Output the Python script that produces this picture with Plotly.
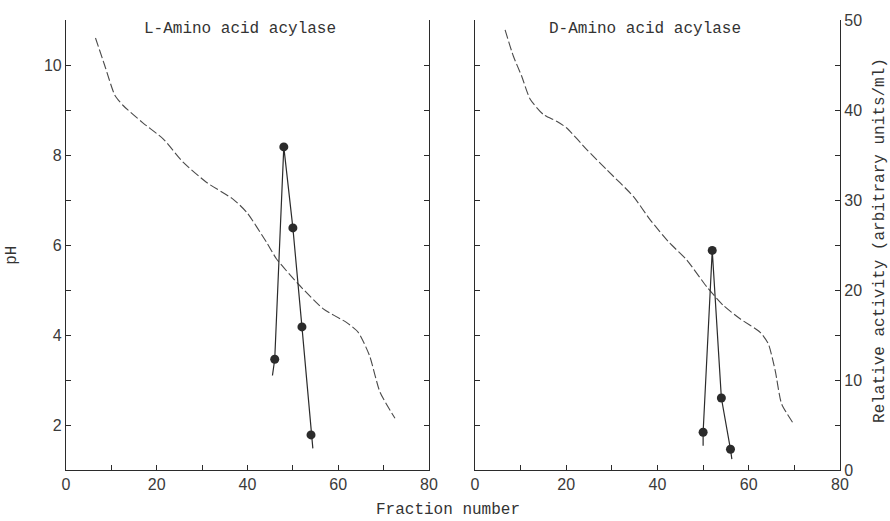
import plotly.graph_objects as go

# ---- data ----
# L-amino acid acylase panel
l_ph_frac = [6.5, 8.5, 10.8, 12.6, 17.0, 21.4, 25.8, 31.0, 36.8, 39.8, 44.2, 46.4, 51.5, 56.7, 61.8, 64.4, 66.9, 69.2, 72.5]
l_ph_val = [10.6, 10.0, 9.32, 9.10, 8.71, 8.36, 7.84, 7.39, 7.02, 6.73, 6.06, 5.69, 5.10, 4.58, 4.28, 4.06, 3.54, 2.73, 2.15]
l_act_frac = [46, 48, 50, 52, 54]
l_act_val = [12.3, 35.9, 26.9, 15.9, 3.9]
l_line_frac = [45.5, 46, 48, 50, 52, 54, 54.4]
l_line_val = [10.5, 12.3, 35.9, 26.9, 15.9, 3.9, 2.4]

# D-amino acid acylase panel
d_ph_frac = [6.6, 8.4, 10.2, 12.1, 15.0, 17.9, 20.1, 24.5, 28.9, 34.7, 38.4, 42.7, 46.4, 50.8, 54.4, 58.1, 62.5, 64.3, 65.8, 67.2, 69.8]
d_ph_val = [10.78, 10.2, 9.76, 9.24, 8.90, 8.75, 8.60, 8.12, 7.67, 7.08, 6.56, 6.04, 5.67, 5.07, 4.66, 4.36, 4.06, 3.80, 3.21, 2.47, 2.03]
d_act_frac = [50, 52, 54, 56]
d_act_val = [4.2, 24.4, 8.0, 2.3]
d_line_frac = [50, 50, 52, 54, 56, 56.3]
d_line_val = [2.7, 4.2, 24.4, 8.0, 2.3, 1.2]

x_ticks = list(range(0, 81, 10))
x_labels = ["0", "", "20", "", "40", "", "60", "", "80"]
ph_ticks = list(range(1, 12))
ph_labels = ["", "2", "", "4", "", "6", "", "8", "", "10", ""]
act_ticks = list(range(0, 51, 5))
act_labels = ["0", "", "10", "", "20", "", "30", "", "40", "", "50"]

INK = "#2b2b2b"
MONO = "Liberation Mono, DejaVu Sans Mono, monospace"
SANS = "Liberation Sans, Arial, sans-serif"

fig = go.Figure()

dash_style = dict(color="#4a4a4a", width=1.1, dash="9px,3px", shape="spline", smoothing=0.6)
solid_style = dict(color=INK, width=1.2)
marker_style = dict(color=INK, size=9)

# left panel
fig.add_trace(go.Scatter(x=l_ph_frac, y=l_ph_val, mode="lines", line=dash_style, xaxis="x", yaxis="y", showlegend=False))
fig.add_trace(go.Scatter(x=l_line_frac, y=l_line_val, mode="lines", line=solid_style, xaxis="x", yaxis="y4", showlegend=False))
fig.add_trace(go.Scatter(x=l_act_frac, y=l_act_val, mode="markers", marker=marker_style, xaxis="x", yaxis="y4", showlegend=False))

# right panel
fig.add_trace(go.Scatter(x=d_ph_frac, y=d_ph_val, mode="lines", line=dash_style, xaxis="x2", yaxis="y2", showlegend=False))
fig.add_trace(go.Scatter(x=d_line_frac, y=d_line_val, mode="lines", line=solid_style, xaxis="x2", yaxis="y3", showlegend=False))
fig.add_trace(go.Scatter(x=d_act_frac, y=d_act_val, mode="markers", marker=marker_style, xaxis="x2", yaxis="y3", showlegend=False))

tickfont = dict(family=SANS, size=16, color="#3a3a3a")
common_x = dict(range=[0, 80], tickvals=x_ticks, ticktext=x_labels, ticks="inside", ticklen=5,
                tickcolor=INK, showline=True, linecolor=INK, linewidth=1.2, showgrid=False,
                zeroline=False, tickfont=tickfont)
fig.update_layout(
    width=890, height=521,
    margin=dict(l=66, r=50, t=20, b=51, autoexpand=False),
    paper_bgcolor="white", plot_bgcolor="white",
    xaxis=dict(domain=[0, 0.469], anchor="y", **common_x),
    xaxis2=dict(domain=[0.5284, 1.0], anchor="y2", **common_x),
    yaxis=dict(domain=[0, 1], anchor="x", range=[1, 11], tickvals=ph_ticks, ticktext=ph_labels,
               ticks="inside", ticklen=5, tickcolor=INK, showline=True, linecolor=INK, linewidth=1.2,
               mirror="ticks", showgrid=False, zeroline=False, tickfont=tickfont),
    yaxis4=dict(overlaying="y", anchor="x", range=[0, 50], visible=False),
    yaxis2=dict(domain=[0, 1], anchor="x2", range=[1, 11], tickvals=ph_ticks, showticklabels=False,
                ticks="inside", ticklen=5, tickcolor=INK, showline=True, linecolor=INK, linewidth=1.2,
                showgrid=False, zeroline=False),
    yaxis3=dict(overlaying="y2", anchor="x2", side="right", range=[0, 50], tickvals=act_ticks,
                ticktext=act_labels, ticks="inside", ticklen=5, tickcolor=INK, showline=True,
                linecolor=INK, linewidth=1.2, showgrid=False, zeroline=False, tickfont=tickfont),
)

labfont = dict(family=MONO, size=16, color="#333")
fig.add_annotation(text="L-Amino acid acylase", xref="paper", yref="paper", x=0.2242, y=0.98,
                   showarrow=False, font=labfont, xanchor="center", yanchor="middle")
fig.add_annotation(text="D-Amino acid acylase", xref="paper", yref="paper", x=0.748, y=0.98,
                   showarrow=False, font=labfont, xanchor="center", yanchor="middle")
fig.add_annotation(text="Fraction number", xref="paper", yref="paper", x=0.4935, y=-0.089,
                   showarrow=False, font=labfont, xanchor="center", yanchor="middle")
fig.add_annotation(text="pH", xref="paper", yref="paper", x=-0.0698, y=0.478, textangle=-90,
                   showarrow=False, font=labfont, xanchor="center", yanchor="middle")
fig.add_annotation(text="Relative activity (arbitrary units/ml)", xref="paper", yref="paper",
                   x=1.0517, y=0.509, textangle=-90,
                   showarrow=False, font=labfont, xanchor="center", yanchor="middle")

fig.write_html("out.html", config={"displayModeBar": False},
               post_script="document.body.style.margin='0';")
